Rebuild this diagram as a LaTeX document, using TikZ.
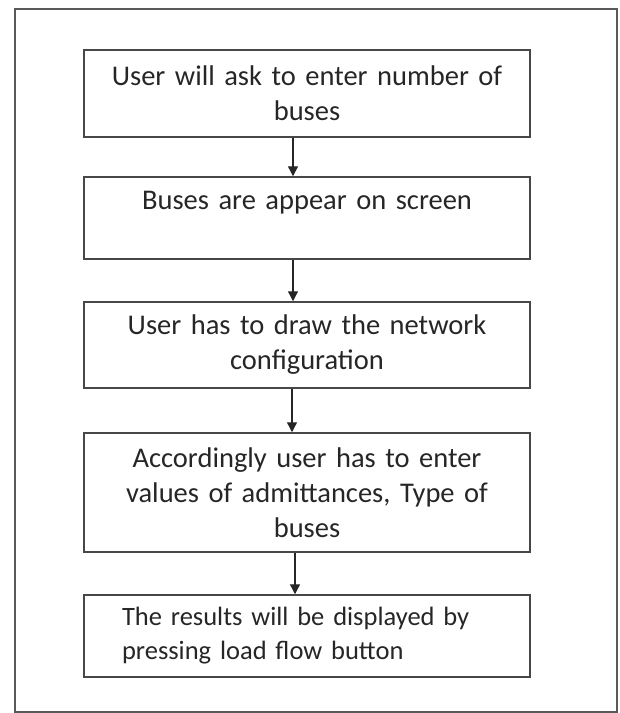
\documentclass[tikz,border=0pt]{standalone}
\usepackage{fontspec}
\setmainfont{Carlito}
\usepackage{tikz}
\usetikzlibrary{arrows.meta, positioning}

\begin{document}
\begin{tikzpicture}[
    x=1pt, y=-1pt,
    stepbox/.style={rectangle, draw=black!72, line width=1.5pt, minimum width=446pt, inner sep=0pt, text width=430pt, align=center, text=black!85, font=\fontsize{28.5}{35}\selectfont},
    framebox/.style={rectangle, draw=black!65, line width=1.6pt, minimum width=602pt, minimum height=703pt, inner sep=0pt},
    flow/.style={-{Triangle[length=10pt, width=10pt]}, draw=black!85, line width=1.3pt}
]
\useasboundingbox (0,0) rectangle (620,713);

% Outer frame
\node[framebox] (frame) at (316, 360.5) {};

% Steps of the procedure
\node[stepbox, minimum height=87pt]  (ask)     at (307, 93.5) {User will ask to enter number of\\buses};
\node[stepbox, minimum height=82pt]  (appear)  at (307, 218) {Buses are appear on screen\\~};
\node[stepbox, minimum height=86pt]  (network) at (307, 345) {User has to draw the network\\configuration};
\node[stepbox, minimum height=119pt] (values)  at (307, 492.5) {Accordingly user has to enter\\values of admittances, Type of\\buses};
\node[stepbox, minimum height=82pt, align=left, text width=420pt, font=\fontsize{26.5}{34}\selectfont] (results) at (307, 636) {\hspace*{25pt}The results will be displayed by\\\hspace*{25pt}pressing load flow button};

% Arrows, a little left of the box centres
\draw[flow] ([xshift=-14pt]ask.south)     -- ([xshift=-14pt]appear.north);
\draw[flow] ([xshift=-14pt]appear.south)  -- ([xshift=-14pt]network.north);
\draw[flow] ([xshift=-15pt]network.south) -- ([xshift=-15pt]values.north);
\draw[flow] ([xshift=-12pt]values.south)  -- ([xshift=-12pt]results.north);

\end{tikzpicture}
\end{document}
